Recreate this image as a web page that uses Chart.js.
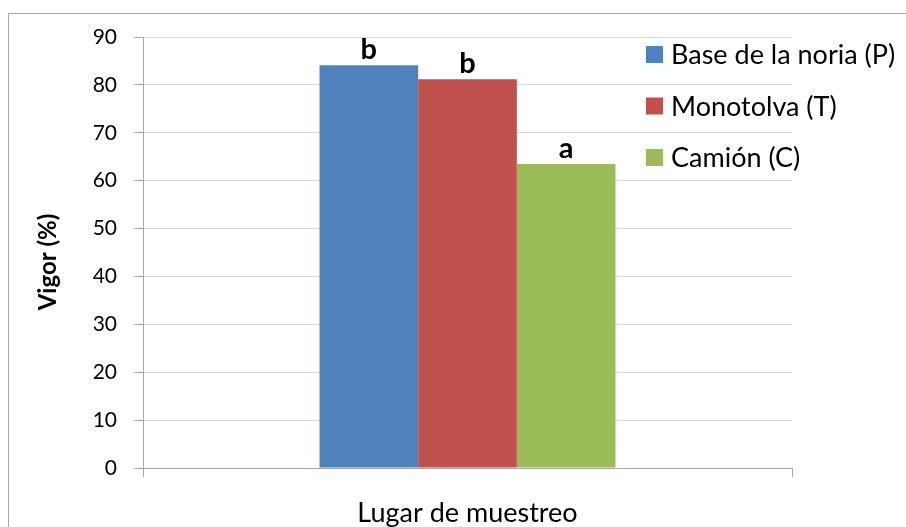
<!DOCTYPE html>
<html>
<head>
<meta charset="utf-8">
<script src="https://cdn.jsdelivr.net/npm/chart.js@4"></script>
<style>
  html, body { margin: 0; padding: 0; background: #ffffff; }
  #wrap { width: 906px; height: 527px; position: relative; }
</style>
</head>
<body>
<div id="wrap"><canvas id="c" width="906" height="527"></canvas></div>
<script>
// Vigor de la semilla según el lugar de muestreo
const categorias = [''];
const series = ['Base de la noria (P)', 'Monotolva (T)', 'Camión (C)'];
const valores = [84.1, 81.2, 63.5];
const letras = ['b', 'b', 'a'];
const colores = ['#4f81bd', '#c0504d', '#9bbb59'];
const ejeY = { min: 0, max: 90, paso: 10 };
const tituloY = 'Vigor (%)';
const tituloX = 'Lugar de muestreo';

const FUENTE = 'Lato, "Open Sans", sans-serif';
Chart.defaults.font.family = FUENTE;
Chart.defaults.color = '#000000';

const GRIS_EJE = '#a6a6a6';
const GRIS_REJILLA = '#d9d9d9';

// Marco exterior del gráfico
const marco = {
  id: 'marco',
  beforeDraw(chart) {
    const ctx = chart.ctx;
    ctx.save();
    ctx.fillStyle = '#ffffff';
    ctx.fillRect(0, 0, chart.width, chart.height);
    ctx.strokeStyle = GRIS_EJE;
    ctx.lineWidth = 1;
    ctx.strokeRect(8.5, 13.5, chart.width + 20, chart.height + 20);
    ctx.restore();
  }
};

// Título vertical del eje Y
const tituloEjeY = {
  id: 'tituloEjeY',
  afterDraw(chart) {
    const ctx = chart.ctx;
    ctx.save();
    ctx.translate(48, 262);
    ctx.rotate(-Math.PI / 2);
    ctx.font = 'bold 24px ' + FUENTE;
    ctx.fillStyle = '#000000';
    ctx.textAlign = 'center';
    ctx.textBaseline = 'middle';
    ctx.fillText(tituloY, 0, 0);
    ctx.restore();
  }
};

// Letras de significancia sobre cada barra
const letrasBarras = {
  id: 'letrasBarras',
  afterDatasetsDraw(chart) {
    const ctx = chart.ctx;
    ctx.save();
    ctx.font = 'bold 29px ' + FUENTE;
    ctx.fillStyle = '#000000';
    ctx.textAlign = 'center';
    ctx.textBaseline = 'alphabetic';
    chart.data.datasets.forEach((ds, i) => {
      const barra = chart.getDatasetMeta(i).data[0];
      ctx.fillText(letras[i], barra.x, barra.y - 6);
    });
    ctx.restore();
  }
};

// Leyenda a la derecha, una serie por renglón
const leyenda = {
  id: 'leyenda',
  afterDraw(chart) {
    const ctx = chart.ctx;
    ctx.save();
    ctx.font = '27px ' + FUENTE;
    ctx.textBaseline = 'middle';
    ctx.textAlign = 'left';
    chart.data.datasets.forEach((ds, i) => {
      const yc = 54.5 + i * 51.5;
      ctx.fillStyle = ds.backgroundColor;
      ctx.fillRect(646, yc - 8.5, 17, 17);
      ctx.fillStyle = '#000000';
      ctx.fillText(ds.label, 671, yc + 1);
    });
    ctx.restore();
  }
};

new Chart(document.getElementById('c'), {
  type: 'bar',
  data: {
    labels: categorias,
    datasets: series.map((nombre, i) => ({
      label: nombre,
      data: [valores[i]],
      backgroundColor: colores[i],
      borderWidth: 0,
      barPercentage: 1,
      categoryPercentage: 0.456
    }))
  },
  options: {
    responsive: false,
    devicePixelRatio: 1,
    animation: false,
    layout: { padding: { left: 10, top: 37, right: 114, bottom: 0 } },
    plugins: {
      legend: { display: false },
      tooltip: { enabled: false }
    },
    scales: {
      x: {
        grid: {
          offset: true,
          drawOnChartArea: false,
          drawTicks: true,
          tickLength: 9,
          tickColor: GRIS_EJE
        },
        border: { color: GRIS_EJE, width: 1 },
        ticks: { display: true, font: { size: 21 } },
        title: {
          display: true,
          text: tituloX,
          font: { size: 27, lineHeight: 1 },
          color: '#000000',
          padding: { top: 0, bottom: 0 }
        },
        afterFit(s) { s.height = 59; }
      },
      y: {
        min: ejeY.min,
        max: ejeY.max,
        ticks: { stepSize: ejeY.paso, font: { size: 21 }, padding: 17, color: '#000000' },
        grid: { color: GRIS_REJILLA, tickColor: GRIS_EJE, tickLength: 9 },
        border: { color: GRIS_EJE, width: 1 },
        title: { display: false },
        afterFit(s) { s.width = 133; }
      }
    }
  },
  plugins: [marco, tituloEjeY, letrasBarras, leyenda]
});
</script>
</body>
</html>
